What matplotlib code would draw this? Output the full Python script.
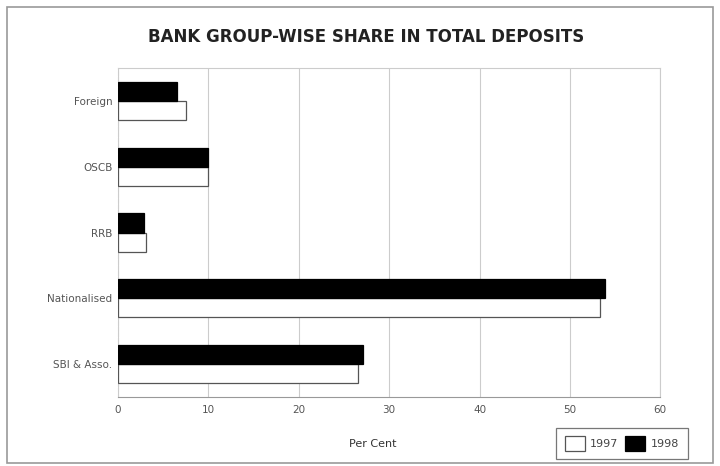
import matplotlib.pyplot as plt
import numpy as np
from matplotlib.patches import Rectangle

plt.rcParams['font.family'] = ['DejaVu Sans']

groups = ['SBI & Asso.', 'Nationalised', 'RRB', 'OSCB', 'Foreign']
share_1997 = [26.5, 53.3, 3.1, 10.0, 7.5]
share_1998 = [27.1, 53.9, 2.9, 9.9, 6.5]
xticks = [0, 10, 20, 30, 40, 50, 60]

fig = plt.figure(figsize=(7.2, 4.66), dpi=100)
ax = fig.add_axes([0.164, 0.148, 0.753, 0.706])

y = np.arange(len(groups))
h = 0.29
ax.barh(y - h / 2, share_1997, height=h, color='white', edgecolor='#555555',
        linewidth=0.9, label='1997', zorder=3)
ax.barh(y + h / 2, share_1998, height=h, color='black', edgecolor='black',
        linewidth=0.9, label='1998', zorder=3)

ax.set_xlim(0, 60)
ax.set_ylim(-0.5, 4.5)
ax.set_xticks(xticks)
ax.set_yticks(y)
ax.set_yticklabels(groups)
ax.tick_params(axis='both', length=0, labelsize=7.5, colors='#555555')
ax.tick_params(axis='y', pad=4)
ax.tick_params(axis='x', pad=6)
ax.grid(axis='x', color='#cccccc', linewidth=0.8, zorder=0)
for side in ['top', 'right', 'left']:
    ax.spines[side].set_color('#cccccc')
    ax.spines[side].set_linewidth(0.8)
ax.spines['left'].set_linestyle((0, (3, 2)))
ax.spines['bottom'].set_color('#999999')
ax.spines['bottom'].set_linewidth(0.8)

ax.set_xlabel('Per Cent', fontsize=8, color='#333333')
ax.xaxis.set_label_coords(0.469, -0.128)

fig.text(0.508, 0.921, 'BANK GROUP-WISE SHARE IN TOTAL DEPOSITS',
         ha='center', va='center', fontsize=12, fontweight='bold', color='#222222')

leg = ax.legend(loc='lower right', bbox_to_anchor=(0.955, 0.015),
                bbox_transform=fig.transFigure, ncol=2, fontsize=8,
                frameon=True, fancybox=False, borderaxespad=0,
                handlelength=1.8, handleheight=1.6, handletextpad=0.5,
                columnspacing=0.6, borderpad=0.75)
leg.get_frame().set_edgecolor('#555555')
leg.get_frame().set_linewidth(0.9)
for t in leg.get_texts():
    t.set_color('#444444')

fig.patches.append(Rectangle((0.01, 0.006), 0.98, 0.98, transform=fig.transFigure,
                             fill=False, edgecolor='#999999', linewidth=1.2))

fig.savefig('out.png', dpi=100)
